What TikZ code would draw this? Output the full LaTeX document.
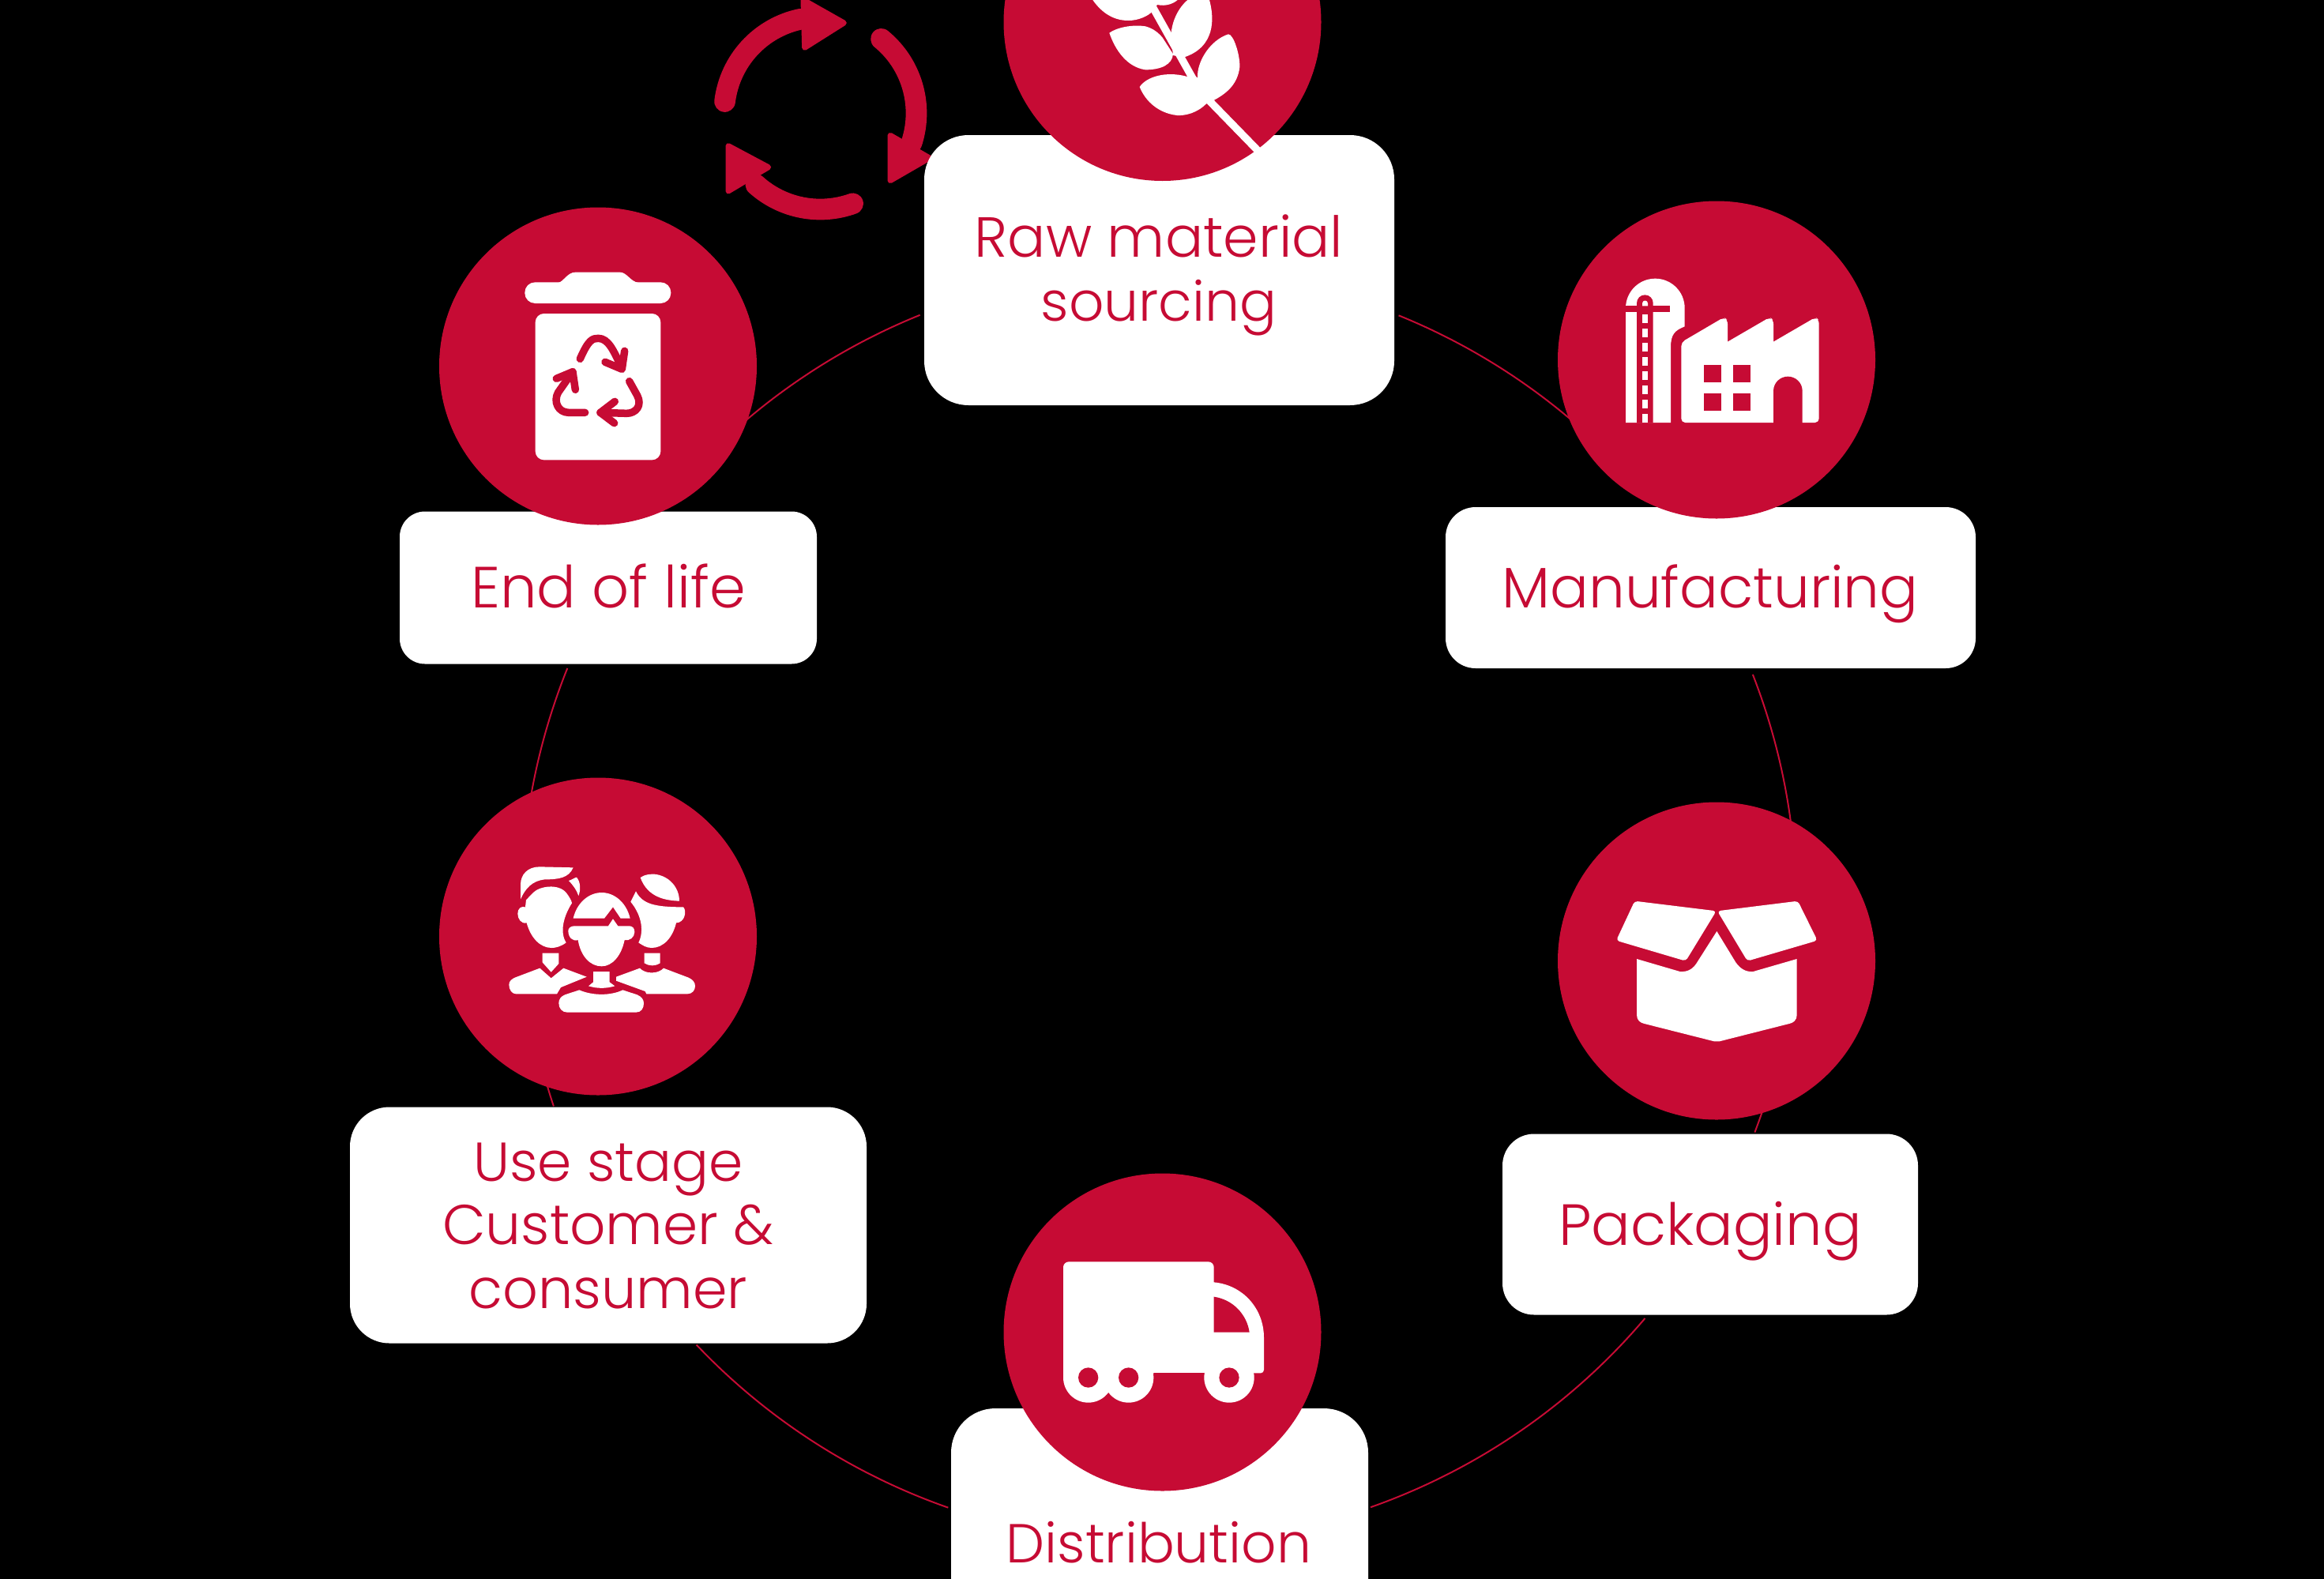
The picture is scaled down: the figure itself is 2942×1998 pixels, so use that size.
\documentclass[tikz,border=0pt]{standalone}
\usepackage{fontspec}
\setmainfont{Poppins}[UprightFont=* Light]
\usetikzlibrary{calc}
\definecolor{crim}{RGB}{198,11,52}
\tikzset{
  ringline/.style={draw=crim,line width=2pt},
  disc/.style={circle,fill=crim,draw=none,minimum size=402pt,inner sep=0pt,outer sep=0pt},
  cardbox/.style={rectangle,fill=white,draw=none,inner sep=0pt,outer sep=0pt},
  lbl/.style={text=crim,font=\fontsize{#1}{81}\selectfont,align=center,inner sep=0pt,anchor=base},
  lbl/.default=71,
  iconat/.style args={#1,#2}{xshift=#1pt,yshift=-#2pt,x=0.33333pt,y=-0.33333pt},
  wh/.style={fill=white,draw=none},
  rd/.style={fill=crim,draw=none},
  band/.style={draw=crim,line width=26.7pt,line cap=round},
  headtri/.style={fill=crim,draw=crim,line width=7pt,line join=round},
  bin/.style={draw=crim,line width=9.5pt,line cap=round,line join=round}
}
\begin{document}
\begin{tikzpicture}[x=1pt,y=-1pt]
\useasboundingbox (0,0) rectangle (2942,1998);
\fill[black] (-6,-6) rectangle (2948,2004);
\clip (-6,-6) rectangle (2948,2004);
% ring segments
\coordinate (ringc) at (1467,1147);
\coordinate (a1) at ($(ringc)+(-67.9:807)$);
\coordinate (a2) at ($(ringc)+(-21.3:807)$);
\coordinate (a3) at ($(ringc)+(18:807)$);
\coordinate (a4) at ($(ringc)+(40.3:807)$);
\coordinate (a5) at ($(ringc)+(109.3:807)$);
\coordinate (a6) at ($(ringc)+(161.7:807)$);
\coordinate (a7) at ($(ringc)+(190:807)$);
\coordinate (a8) at ($(ringc)+(228:807)$);
\draw[ringline] (a1) arc[start angle=-67.9,end angle=-49,radius=807];
\draw[ringline] (a2) arc[start angle=-21.3,end angle=-7.5,radius=807];
\draw[ringline] (a3) arc[start angle=18,end angle=20.8,radius=807];
\draw[ringline] (a4) arc[start angle=40.3,end angle=70.6,radius=807];
\draw[ringline] (a5) arc[start angle=109.3,end angle=136.5,radius=807];
\draw[ringline] (a6) arc[start angle=161.7,end angle=164,radius=807];
\draw[ringline] (a7) arc[start angle=190,end angle=201.9,radius=807];
\draw[ringline] (a8) arc[start angle=228,end angle=248,radius=807];
% cycle arrows
\begin{scope}[iconat={890,0}]
\coordinate (cyc) at (445,430);
\draw[band] ($(cyc)+(187:365)$) arc[start angle=187,end angle=258,radius=365];
\draw[band] ($(cyc)+(-50.6:365)$) arc[start angle=-50.6,end angle=17.7,radius=365];
\draw[band] ($(cyc)+(70.2:365)$) arc[start angle=70.2,end angle=132,radius=365];
\draw[headtri] (381,0) -- (535,87) -- (386,181) -- cycle;
\draw[headtri] (711,514) -- (860,600) -- (711,686) -- cycle;
\draw[headtri] (96,554) -- (248,635) -- (96,726) -- cycle;
\end{scope}
% cards
\node[cardbox,minimum width=595pt,minimum height=342pt,rounded corners=56pt] (rawbox) at (1467.5,342) {};
\node[cardbox,minimum width=671pt,minimum height=204pt,rounded corners=38pt] (mfgbox) at (2165.5,744) {};
\node[cardbox,minimum width=526pt,minimum height=229pt,rounded corners=40pt] (packbox) at (2165,1550) {};
\node[cardbox,minimum width=528pt,minimum height=342pt,rounded corners=56pt] (distbox) at (1468,1954) {};
\node[cardbox,minimum width=654pt,minimum height=299pt,rounded corners=50pt] (usebox) at (770,1551) {};
\node[cardbox,minimum width=528pt,minimum height=193pt,rounded corners=32pt] (endbox) at (770,744) {};
% discs
\node[disc] (rawdisc) at (1471.5,28) {};
\node[disc] (mfgdisc) at (2173,455.5) {};
\node[disc] (packdisc) at (2173,1216.5) {};
\node[disc] (distdisc) at (1471.5,1686.5) {};
\node[disc] (usedisc) at (757,1185.5) {};
\node[disc] (enddisc) at (757,463.5) {};
% wheat
\begin{scope}[iconat={1370,0}]
\draw[white,line width=9.5pt] (250,-5) -- (418,295) -- (487,387) -- (672,577);
\fill[wh] (40,0) .. controls (75,50) and (120,78) .. (175,78) .. controls (215,78) and (250,60) .. (265,45) -- (285,18) .. controls (315,25) and (345,15) .. (362,0) -- (362,-20) -- (40,-20) -- cycle;
\fill[wh] (103,125) .. controls (130,105) and (190,92) .. (240,100) .. controls (270,108) and (290,125) .. (305,143) -- (345,205) .. controls (342,245) and (300,265) .. (240,265) .. controls (170,255) and (125,190) .. (103,125) -- cycle;
\fill[wh] (337,135) .. controls (340,80) and (365,30) .. (400,0) -- (480,-10) .. controls (505,70) and (505,180) .. (385,218) -- (345,210) -- cycle;
\fill[wh] (218,330) .. controls (245,290) and (320,270) .. (395,290) -- (438,295) .. controls (435,230) and (490,150) .. (555,130) .. controls (575,130) and (600,210) .. (598,255) .. controls (590,320) and (550,360) .. (470,395) .. controls (435,430) and (390,440) .. (360,438) .. controls (290,430) and (240,385) .. (218,330) -- cycle;
\end{scope}
% factory
\begin{scope}[iconat={1950,250}]
\fill[wh] (324,855) -- (324,420) arc[start angle=180,end angle=360,radius=112] -- (548,490) .. controls (510,505) and (495,520) .. (495,570) -- (495,855) -- cycle;
\fill[rd] (324,411) rectangle (492,434);
\fill[rd] (366,856) -- (366,401) arc[start angle=180,end angle=360,radius=31] -- (428,856) -- cycle;
\fill[wh] (387,412) -- (387,402) arc[start angle=180,end angle=360,radius=10.5] -- (408,412) -- cycle;
\foreach \yy in {444,498,552,606,660,714,768,822}{\fill[wh] (387,\yy) rectangle (408,\yy+33);}
\fill[wh,rounded corners=5pt] (535,855) -- (535,550) -- (697,455) -- (711,465) -- (711,548) [sharp corners] -- (711,548) [rounded corners=5pt] -- (871,455) -- (885,465) -- (885,548) [sharp corners] -- (885,548) [rounded corners=5pt] -- (1045,455) -- (1058,465) -- (1058,855) -- cycle;
\fill[rd] (622,636) rectangle (688,702);
\fill[rd] (732,636) rectangle (798,702);
\fill[rd] (622,745) rectangle (688,811);
\fill[rd] (732,745) rectangle (798,811);
\fill[rd] (885,860) -- (885,735) arc[start angle=180,end angle=360,radius=55] -- (995,860) -- cycle;
\end{scope}
% box icon
\begin{scope}[iconat={1950,1010}]
\fill[wh,rounded corners=4pt] (358,392) -- (668,430) -- (552,620) -- (288,542) -- cycle;
\fill[wh,rounded corners=4pt] (978,392) -- (672,430) -- (786,620) -- (1052,542) -- cycle;
\fill[wh] (366,612) -- (530,660) .. controls (560,662) and (580,650) .. (595,625) -- (670,507) -- (742,625) .. controls (760,650) and (780,662) .. (808,660) -- (974,612) -- (974,825) .. controls (974,845) and (960,855) .. (945,858) -- (680,925) -- (660,925) -- (395,858) .. controls (380,855) and (366,845) .. (366,825) -- cycle;
\end{scope}
% truck
\begin{scope}[iconat={1270,1490}]
\fill[wh,rounded corners=7pt] (228,762) -- (228,322) -- (800,322) -- (800,400) [sharp corners] -- (800,400) .. controls (910,410) and (990,500) .. (990,610) [rounded corners=4pt] -- (990,745) -- (228,745) -- cycle;
\fill[rd] (572,745) rectangle (765,800);
\fill[wh] (323,762) circle[radius=95];
\fill[wh] (476,762) circle[radius=95];
\fill[wh] (858,762) circle[radius=95];
\fill[rd] (323,762) circle[radius=38];
\fill[rd] (476,762) circle[radius=38];
\fill[rd] (858,762) circle[radius=38];
\fill[rd] (800,455) .. controls (870,465) and (925,520) .. (935,590) -- (800,590) -- cycle;
\end{scope}
% people
\begin{scope}[iconat={550,980}]
% left person
\fill[wh] (327,475) -- (327,420) .. controls (327,380) and (355,352) .. (400,352) -- (527,355) .. controls (510,395) and (470,400) .. (420,400) .. controls (370,405) and (345,435) .. (327,475) -- cycle;
\fill[wh] (510,405) .. controls (525,400) and (535,392) .. (540,392) .. controls (555,410) and (556,440) .. (547,462) .. controls (540,440) and (525,420) .. (510,405) -- cycle;
\fill[wh] (375,450) .. controls (400,425) and (470,415) .. (500,450) .. controls (515,470) and (520,480) .. (522,490) .. controls (490,540) and (475,600) .. (500,640) .. controls (480,655) and (460,660) .. (445,660) .. controls (400,660) and (365,620) .. (350,565) .. controls (330,570) and (316,550) .. (316,530) .. controls (316,510) and (330,500) .. (345,505) -- (348,478) -- cycle;
\fill[wh] (410,680) -- (472,680) -- (472,720) -- (443,752) -- (410,715) -- cycle;
\fill[wh] (283,800) .. controls (283,785) and (295,778) .. (305,773) -- (400,737) -- (443,775) -- (490,737) -- (578,770) -- (480,810) -- (465,835) -- (310,835) .. controls (295,835) and (283,820) .. (283,800) -- cycle;
% right person
\fill[wh] (782,393) .. controls (800,380) and (820,380) .. (835,380) .. controls (890,385) and (930,430) .. (930,482) .. controls (880,480) and (810,470) .. (782,393) -- cycle;
\fill[wh] (765,445) .. controls (790,495) and (840,505) .. (945,505) .. controls (960,520) and (950,565) .. (918,565) .. controls (905,620) and (870,660) .. (825,660) .. controls (805,660) and (790,650) .. (775,640) .. controls (795,600) and (790,540) .. (745,485) -- cycle;
\fill[wh] (797,680) -- (857,680) -- (857,718) .. controls (840,730) and (815,730) .. (797,718) -- cycle;
\fill[wh] (690,770) -- (780,737) .. controls (800,760) and (850,760) .. (870,737) -- (965,773) .. controls (980,780) and (990,790) .. (990,805) .. controls (990,820) and (980,835) .. (960,835) -- (805,835) -- (800,825) -- (690,785) -- cycle;
% middle person
\fill[wh] (527,548) .. controls (540,490) and (585,450) .. (635,450) .. controls (685,450) and (730,490) .. (743,548) -- (707,548) -- (678,505) -- (645,548) -- cycle;
\fill[wh] (508,595) .. controls (508,585) and (518,577) .. (530,577) -- (660,577) -- (678,550) -- (697,577) -- (740,577) .. controls (752,577) and (760,585) .. (760,600) .. controls (760,620) and (740,635) .. (722,630) .. controls (710,690) and (675,730) .. (635,730) .. controls (590,730) and (555,690) .. (545,630) .. controls (525,637) and (508,620) .. (508,595) -- cycle;
\fill[wh] (603,750) -- (665,750) -- (665,790) -- (685,805) .. controls (650,815) and (620,815) .. (585,805) -- (603,790) -- cycle;
\fill[wh] (472,870) .. controls (472,855) and (480,845) .. (495,838) -- (550,820) .. controls (600,842) and (670,842) .. (715,820) -- (770,838) .. controls (785,845) and (795,855) .. (795,870) .. controls (795,890) and (785,905) .. (765,905) -- (505,905) .. controls (485,905) and (472,890) .. (472,870) -- cycle;
\end{scope}
% bin
\begin{scope}[iconat={550,260}]
\fill[wh,rounded corners=13pt] (343,292) rectangle (898,372);
\fill[wh] (470,294) .. controls (490,290) and (505,254) .. (535,254) -- (705,254) .. controls (730,254) and (745,290) .. (775,294) -- cycle;
\fill[wh,rounded corners=11pt] (383,411) rectangle (859,967);
\draw[bin] (553,583) .. controls (585,510) and (600,505) .. (622,505) .. controls (660,505) and (680,550) .. (712,620);
\draw[bin] (722,553) -- (712,622) -- (648,595);
\draw[bin] (740,668) -- (770,722) .. controls (790,760) and (765,790) .. (730,790) -- (630,787);
\draw[bin] (685,745) -- (630,787) -- (683,827);
\draw[bin] (572,787) -- (510,787) .. controls (470,787) and (450,745) .. (470,710) -- (525,632);
\draw[bin] (463,658) -- (525,632) -- (535,700);
\end{scope}
% labels
\node[lbl=71.5] (rawtxt) at (1467,325) {Raw material};
\node[lbl=69.5] (rawtxtb) at (1467,406) {sourcing};
\node[lbl=72.3] (mfgtxt) at (2165,769) {Manufacturing};
\node[lbl=73.5] (packtxt) at (2165,1576) {Packaging};
\node[lbl=69.5] (disttxt) at (1467,1978) {Distribution};
\node[lbl=69.5] (usetxt) at (770,1495) {Use stage};
\node[lbl=71] (usetxtb) at (770,1575) {Customer \&};
\node[lbl=70] (usetxtc) at (770,1656) {consumer};
\node[lbl=73.5] (endtxt) at (770,769) {End of life};
\end{tikzpicture}
\end{document}
